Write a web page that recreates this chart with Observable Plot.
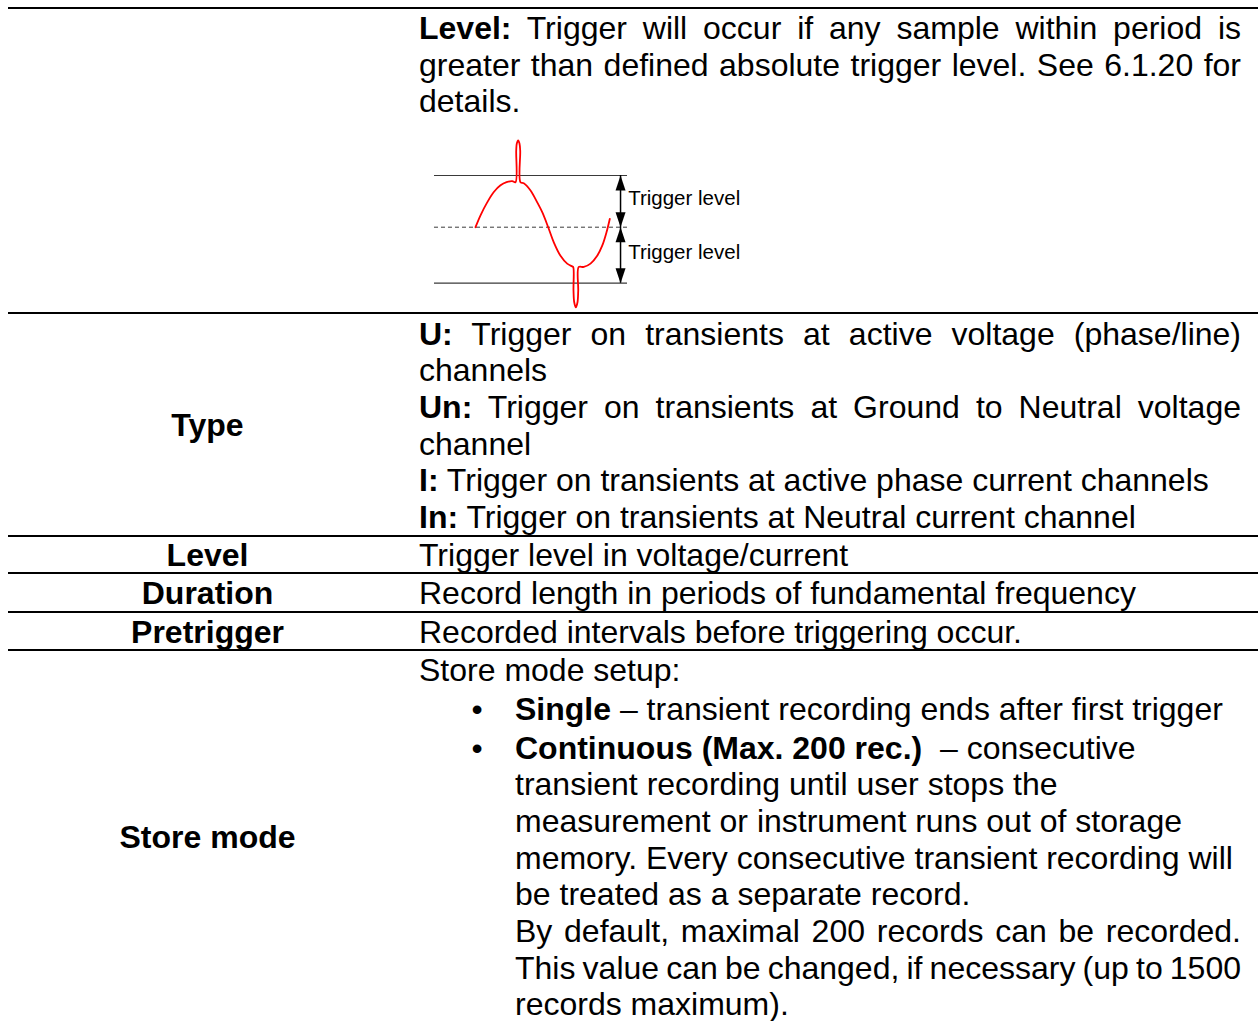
<!DOCTYPE html>
<html>
<head>
<meta charset="utf-8">
<script src="https://cdn.jsdelivr.net/npm/d3@7"></script>
<script src="https://cdn.jsdelivr.net/npm/@observablehq/plot@0.6"></script>
<style>
  html, body { margin: 0; padding: 0; background: #fff; }
  #page {
    position: relative; width: 1258px; height: 1021px; overflow: hidden;
    font-family: "Liberation Sans", Arial, sans-serif; font-size: 32px;
    line-height: 36.7px; color: #000; background: #fff;
  }
  .rule { position: absolute; left: 8px; right: 0; height: 2px; background: #000; }
  .lab { position: absolute; left: 8px; width: 399px; text-align: center; font-weight: bold; white-space: nowrap; }
  .ln { position: absolute; white-space: nowrap; }
  .just { text-align: justify; text-align-last: justify; }
  .bullet { position: absolute; left: 464px; width: 26px; text-align: center; }
  #diagram { position: absolute; left: 420px; top: 130px; width: 340px; height: 185px; }
  #diagram svg { overflow: visible; max-width: none; }
</style>
</head>
<body>
<div id="page"></div>
<script>
// ---------------- content (text of the table, line by line as printed) ----------------
const rowLabels = ["Type", "Level", "Duration", "Pretrigger", "Store mode"];
const levelKey = "Level:";
const levelLines = [
  "Trigger will occur if any sample within period is",
  "greater than defined absolute trigger level. See 6.1.20 for",
  "details."
];
const typeKeys = ["U:", "Un:", "I:", "In:"];
const typeLines = [
  ["Trigger on transients at active voltage (phase/line)", "channels"],
  ["Trigger on transients at Ground to Neutral voltage", "channel"],
  ["Trigger on transients at active phase current channels"],
  ["Trigger on transients at Neutral current channel"]
];
const simpleTexts = [
  "Trigger level in voltage/current",
  "Record length in periods of fundamental frequency",
  "Recorded intervals before triggering occur."
];
const storeIntro = "Store mode setup:";
const storeKeys = ["Single", "Continuous (Max. 200 rec.)"];
const storeLines = [
  ["\u2013 transient recording ends after first trigger"],
  ["\u00a0\u2013 consecutive",
   "transient recording until user stops the",
   "measurement or instrument runs out of storage",
   "memory. Every consecutive transient recording will",
   "be treated as a separate record."]
];
const noteLines = [
  "By default, maximal 200 records can be recorded.",
  "This value can be changed, if necessary (up to 1500",
  "records maximum)."
];

// ---------------- diagram data ----------------
// time in ms (50 Hz wave), value in units of the trigger level
const waveT = [0, 0.69, 1.61, 2.52, 3.44, 4.27, 5.05, 5.50, 5.60, 5.68, 5.87, 6.05, 6.15, 6.19,
  6.64, 7.57, 8.49, 9.18, 10.0, 10.77, 11.69, 12.61, 13.30, 13.44, 13.48, 13.58, 13.80, 14.03,
  14.13, 14.21, 14.90, 15.82, 16.74, 17.43, 18.02, 18.47];
const waveV = [0, 0.23, 0.48, 0.68, 0.81, 0.87, 0.89, 0.87, 1.48, 1.62, 1.68, 1.62, 1.48, 0.87,
  0.85, 0.71, 0.48, 0.29, 0, -0.27, -0.51, -0.65, -0.70, -0.71, -1.13, -1.34, -1.43, -1.34,
  -1.13, -0.71, -0.71, -0.65, -0.51, -0.33, -0.09, 0.16];
const triggerLevels = [1, -1];
const zeroLevel = [0];
const levelLabels = ["Trigger level", "Trigger level"];

// ---------------- layout ----------------
const LH = 36.7;
const page = document.getElementById("page");
function el(tag, cls, style, parent) {
  const e = document.createElement(tag);
  if (cls) e.className = cls;
  Object.assign(e.style, style || {});
  (parent || page).appendChild(e);
  return e;
}
// one printed line; optional bold key at its start
function line(left, width, top, text, key, justify, extra) {
  const d = el("div", "ln" + (justify ? " just" : ""), Object.assign({left: left + "px", width: width + "px", top: top + "px"}, extra || {}));
  if (key) {
    const b = document.createElement("b");
    b.textContent = key;
    d.appendChild(b);
    d.appendChild(document.createTextNode(" " + text));
  } else {
    d.textContent = text;
  }
  return d;
}
// a paragraph: all lines but the last are justified
function para(left, width, top, lines, key, justify, extras) {
  lines.forEach((t, i) => line(left, width, top + i * LH, t, i === 0 ? key : null,
    justify && i < lines.length - 1, extras ? extras[i] : null));
  return top + lines.length * LH;
}

// horizontal rules of the table
[8, 313, 535.5, 573, 611.5, 650].forEach(y => el("div", "rule", {top: (y - 1) + "px"}));

// left column labels
const labelTops = [407, 537, 575, 613.5, 819];
rowLabels.forEach((t, i) => { el("div", "lab", {top: labelTops[i] + "px"}).textContent = t; });

const COL = 419, COLW = 822, ITEM = 515, ITEMW = 726;

// row 1: Level description
para(COL, COLW, 10, levelLines, levelKey, true);

// row 2: Type
let y = 315.5;
typeKeys.forEach((k, i) => { y = para(COL, COLW, y, typeLines[i], k, true); });

// rows 3-5
const simpleTops = [537, 575, 613.5];
simpleTexts.forEach((t, i) => line(COL, COLW, simpleTops[i], t, null, false));

// row 6: Store mode
line(COL, COLW, 652, storeIntro, null, false);
const itemTops = [691, 729.5];
storeKeys.forEach((k, i) => {
  el("div", "bullet", {top: itemTops[i] + "px"}).textContent = "\u2022";
  para(ITEM, ITEMW, itemTops[i], storeLines[i], k, false);
});
para(ITEM, ITEMW, 913, noteLines, null, true, [null, {wordSpacing: "-2px"}, null]);

// ---------------- diagram (Observable Plot) ----------------
const wave = waveT.map((t, i) => ({t, v: waveV[i]}));
const lineStart = -5.64, lineEnd = 20.91, arrowT = 19.95, labelT = 21.0;
const upHead = {draw(ctx) { ctx.moveTo(0, 0); ctx.lineTo(-5, 15); ctx.lineTo(5, 15); ctx.closePath(); }};
const downHead = {draw(ctx) { ctx.moveTo(0, 0); ctx.lineTo(-5, -15); ctx.lineTo(5, -15); ctx.closePath(); }};
const labels = levelLabels.map((text, i) => ({text, v: (triggerLevels[i] + zeroLevel[0]) / 2}));

const chart = Plot.plot({
  width: 340, height: 185,
  marginTop: 0, marginRight: 0, marginBottom: 0, marginLeft: 0,
  style: {background: "transparent", overflow: "visible"},
  x: {type: "linear", domain: [0, 10], range: [55, 127.7], axis: null},
  y: {type: "linear", domain: [-1, 0, 1], range: [152.7, 96.7, 45], axis: null},
  marks: [
    Plot.ruleY(triggerLevels, {x1: lineStart, x2: lineEnd, stroke: "#3a3a3a", strokeWidth: 1.2}),
    Plot.ruleY(zeroLevel, {x1: lineStart, x2: lineEnd, stroke: "#3a3a3a", strokeWidth: 1, strokeDasharray: "4,3"}),
    Plot.line(wave, {x: "t", y: "v", stroke: "#ff0000", strokeWidth: 1.8, curve: "catmull-rom"}),
    Plot.ruleX([arrowT], {y1: triggerLevels[1], y2: triggerLevels[0], stroke: "#000", strokeWidth: 1.5}),
    Plot.dot([triggerLevels[0], zeroLevel[0]], {x: () => arrowT, y: d => d, symbol: upHead, fill: "#000", stroke: "none"}),
    Plot.dot([zeroLevel[0], triggerLevels[1]], {x: () => arrowT, y: d => d, symbol: downHead, fill: "#000", stroke: "none"}),
    Plot.text(labels, {x: () => labelT, y: "v", text: "text", textAnchor: "start", dy: -2.5,
      fontSize: 20.5, fontFamily: "Liberation Sans, Arial, sans-serif", fill: "#000"})
  ]
});
const dg = el("div", "", {}, page);
dg.id = "diagram";
dg.appendChild(chart);
</script>
</body>
</html>
